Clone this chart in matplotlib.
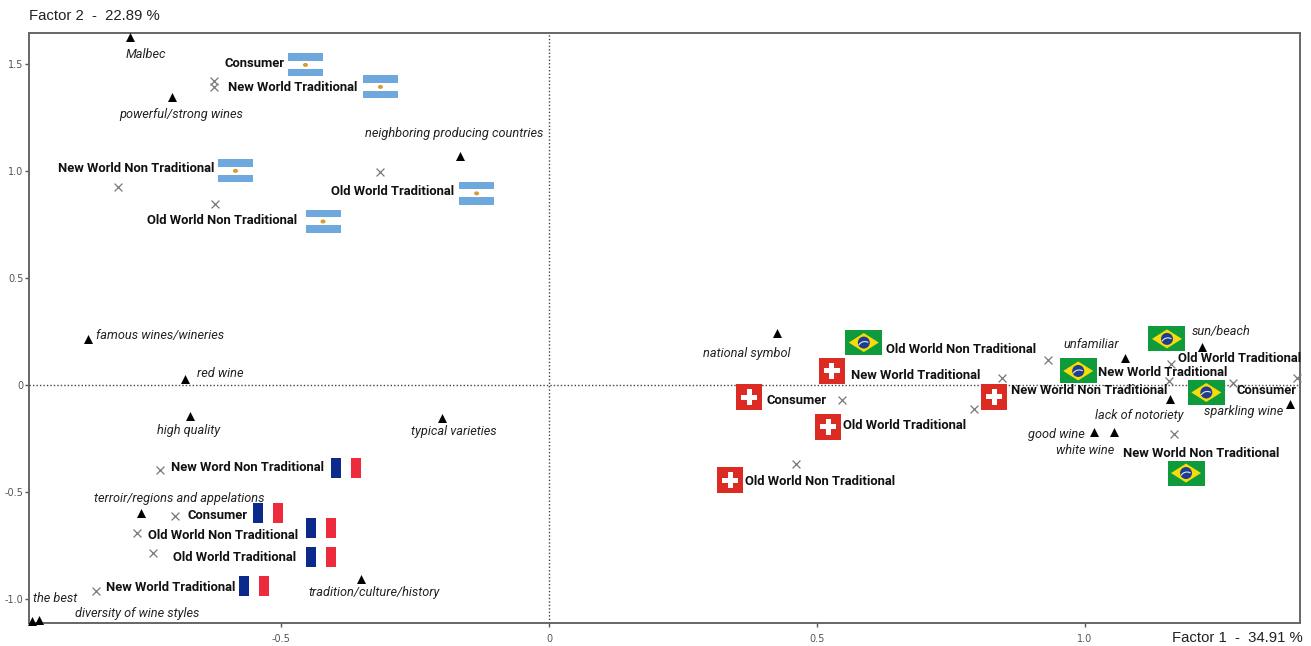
import numpy as np
import matplotlib
matplotlib.use("Agg")
import matplotlib.pyplot as plt
from matplotlib.patches import Rectangle, Polygon, Circle, Ellipse, Arc
from matplotlib.transforms import IdentityTransform

# Perceptual map: factor scores
attr_names = ["Malbec", "powerful/strong wines", "neighboring producing countries",
              "famous wines/wineries", "red wine", "high quality", "typical varieties",
              "terroir/regions and appelations", "tradition/culture/history", "the best",
              "diversity of wine styles", "national symbol", "unfamiliar", "sun/beach",
              "lack of notoriety", "sparkling wine", "good wine", "white wine"]
attr_x = [-0.782, -0.703, -0.166, -0.860, -0.679, -0.670, -0.200, -0.761, -0.351,
          -0.965, -0.951, 0.425, 1.075, 1.218, 1.159, 1.382, 1.017, 1.054]
attr_y = [1.629, 1.348, 1.072, 0.217, 0.030, -0.143, -0.152, -0.596, -0.904,
          -1.100, -1.096, 0.245, 0.129, 0.180, -0.063, -0.086, -0.217, -0.217]

seg_country = ["ar"] * 5 + ["fr"] * 5 + ["ch"] * 5 + ["br"] * 5
seg_names = ["Consumer", "New World Traditional", "New World Non Traditional",
             "Old World Non Traditional", "Old World Traditional",
             "New Word Non Traditional", "Consumer", "Old World Non Traditional",
             "Old World Traditional", "New World Traditional",
             "Consumer", "New World Traditional", "Old World Traditional",
             "Old World Non Traditional", "New World Non Traditional",
             "Old World Non Traditional", "Old World Traditional",
             "New World Traditional", "Consumer", "New World Non Traditional"]
seg_x = [-0.625, -0.625, -0.804, -0.623, -0.315,
         -0.726, -0.698, -0.769, -0.739, -0.845,
         0.547, 0.845, 0.793, 0.461, 0.931,
         1.160, 1.276, 1.157, 1.396, 1.166]
seg_y = [1.423, 1.395, 0.928, 0.848, 0.998,
         -0.395, -0.610, -0.689, -0.783, -0.960,
         -0.068, 0.035, -0.110, -0.367, 0.119,
         0.100, 0.012, 0.021, 0.035, -0.227]

x_ticks = [-0.5, 0, 0.5, 1.0]
y_ticks = [-1.0, -0.5, 0, 0.5, 1.0, 1.5]

# Label and flag placement, in pixels away from the marker (x right, y up)
attr_off = [(-4, -18), (-53, -18), (-95, 23), (8, 4), (12, 6), (-33, -14), (-31, -14),
            (-47, 15), (-52, -14), (1, 22), (36, 7), (-74, -20), (-62, 13), (-10, 15),
            (-75, -17), (-86, -8), (-66, -3), (-58, -19)]
seg_off = [(11, 17), (14, -1), (-60, 18), (-68, -17), (-49, -20),
           (11, 2), (13, 0), (11, -3), (20, -4), (10, 3),
           (-76, 0), (-151, 2), (-131, -17), (-51, -18), (-37, -31),
           (-285, 15), (-55, 24), (-71, 8), (-61, -13), (-51, -19)]
flag_off = [(91.5, 16), (166.5, 0), (117.5, 16), (108, -17.5), (96.5, -21.5),
            (186, 2), (93, 3), (184, 4.5), (168, -3.5), (158, 4.5),
            (-93, 3), (-170, 7), (-146, -18), (-66, -16.5), (-54, -37),
            (-307, 21.5), (-66, 44), (-91, 10), (-91, -14.5), (12, -39)]

px = IdentityTransform()


def box(ax, x, y, w, h, color, z=4):
    ax.add_patch(Rectangle((x, y), w, h, fc=color, ec="none", transform=px, clip_on=False, zorder=z))


def draw_flag(ax, country, cx, cy):
    if country == "ar":
        box(ax, cx - 17.5, cy - 11.5, 35, 23, "#ffffff")
        box(ax, cx - 17.5, cy + 4, 35, 7.5, "#6fa8dc")
        box(ax, cx - 17.5, cy - 11.5, 35, 7.5, "#6fa8dc")
        ax.add_patch(Ellipse((cx, cy), 5, 4, fc="#dd9a2a", ec="none", transform=px, clip_on=False, zorder=5))
    elif country == "fr":
        box(ax, cx - 15, cy - 10, 10, 20, "#0c2a8c")
        box(ax, cx + 5, cy - 10, 10, 20, "#ee2b3d")
    elif country == "ch":
        box(ax, cx - 13, cy - 13, 26, 26, "#dc2b23")
        box(ax, cx - 8, cy - 2.5, 16, 5, "#ffffff", z=5)
        box(ax, cx - 2.5, cy - 8, 5, 16, "#ffffff", z=5)
    else:
        box(ax, cx - 18.5, cy - 12.5, 37, 25, "#0f9a3c")
        ax.add_patch(Polygon([(cx - 15, cy), (cx, cy + 9.5), (cx + 15, cy), (cx, cy - 9.5)], fc="#f7dc0a",
                             ec="none", transform=px, clip_on=False, zorder=5))
        ax.add_patch(Circle((cx, cy), 6, fc="#1f3c8f", ec="none", transform=px, clip_on=False, zorder=6))
        ax.add_patch(Arc((cx + 1, cy - 6), 14, 14, theta1=60, theta2=150, ec="#dfe8f0", lw=0.8,
                         transform=px, clip_on=False, zorder=7))


fig = plt.figure(figsize=(13.11, 6.46), dpi=100)
ax = fig.add_axes([29 / 1311, 1 - 623 / 646, (1300 - 29) / 1311, (623 - 33) / 646])
ax.set_xlim(-0.970, 1.401)
ax.set_ylim(-1.110, 1.647)

ax.axhline(0, color="#444444", lw=1, ls=(0, (1, 1.5)), zorder=1)
ax.axvline(0, color="#444444", lw=1, ls=(0, (1, 1.5)), zorder=1)

ax.scatter(attr_x, attr_y, marker="^", s=42, color="black", linewidths=0, zorder=3, clip_on=False)
ax.scatter(seg_x, seg_y, marker="x", s=32, color="#777777", linewidths=0.9, zorder=3, clip_on=False)

for name, x, y, off in zip(attr_names, attr_x, attr_y, attr_off):
    ax.annotate(name, (x, y), xytext=off, textcoords="offset pixels", ha="left", va="center",
                fontsize=9.15, style="italic", family="Roboto", color="#222222", zorder=7)

for name, x, y, off in zip(seg_names, seg_x, seg_y, seg_off):
    ax.annotate(name, (x, y), xytext=off, textcoords="offset pixels", ha="left", va="center",
                fontsize=9.35, weight="bold", family="Roboto", color="#111111", zorder=7)

for country, x, y, off in zip(seg_country, seg_x, seg_y, flag_off):
    cx, cy = ax.transData.transform((x, y))
    draw_flag(ax, country, cx + off[0], cy + off[1])

ax.set_xticks(x_ticks, ["-0.5", "0", "0.5", "1.0"])
ax.set_yticks(y_ticks, ["-1.0", "-0.5", "0", "0.5", "1.0", "1.5"])
ax.tick_params(axis="both", length=3, width=1, color="#555555", labelcolor="#555555", labelsize=7)
ax.tick_params(axis="y", pad=1)
ax.tick_params(axis="x", pad=5)
for side in ax.spines.values():
    side.set_color("#666666")
    side.set_linewidth(1.4)

fig.text(29 / 1311, 1 - 16 / 646, "Factor 2  -  22.89 %", fontsize=10.7, family="Liberation Sans",
         color="#222222", ha="left", va="center")
fig.text(1303 / 1311, 1 - 638 / 646, "Factor 1  -  34.91 %", fontsize=10.7, family="Liberation Sans",
         color="#222222", ha="right", va="center")

plt.savefig("out.png", dpi=100)
